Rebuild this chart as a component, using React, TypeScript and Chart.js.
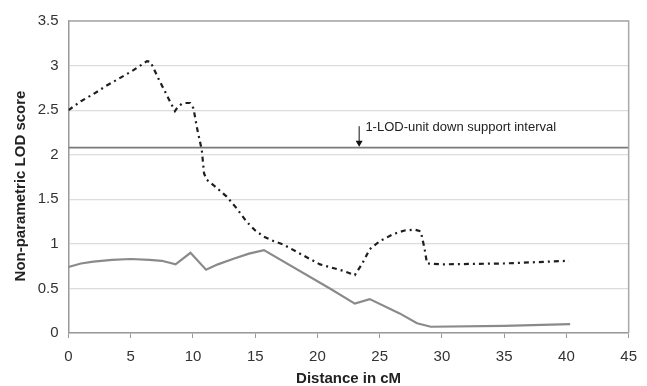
import React, { useEffect, useRef } from "react";
import { Chart, registerables } from "chart.js";

Chart.register(...registerables);

const dashedX = [0, 1, 2, 3, 4, 5, 6, 6.3, 6.6, 7.2, 8, 8.55, 8.8, 9.1, 9.4, 9.77, 10.04, 10.31, 10.71, 10.89, 11.1, 11.64, 12.71, 13.5, 14.3, 15, 15.7, 16.5, 17.3, 18.6, 20.2, 22, 23, 23.6, 24.2, 25, 26.1, 27, 27.8, 28.3, 28.6, 28.8, 30, 35, 40.2];
const dashedY = [2.5, 2.6, 2.68, 2.77, 2.85, 2.93, 3.02, 3.05, 3.04, 2.86, 2.64, 2.49, 2.54, 2.57, 2.58, 2.58, 2.52, 2.31, 2.05, 1.79, 1.72, 1.66, 1.53, 1.4, 1.25, 1.15, 1.08, 1.03, 0.99, 0.89, 0.77, 0.7, 0.65, 0.78, 0.94, 1.03, 1.11, 1.15, 1.16, 1.14, 0.95, 0.78, 0.77, 0.78, 0.81];

const solidX = [0, 1, 2, 3.5, 5, 6.5, 7.5, 8.6, 9.8, 11.05, 12, 13.2, 14.5, 15.7, 21, 23, 24.2, 26.6, 28, 29.1, 35, 40.3];
const solidY = [0.74, 0.78, 0.8, 0.82, 0.83, 0.82, 0.81, 0.77, 0.9, 0.71, 0.77, 0.83, 0.89, 0.93, 0.5, 0.33, 0.38, 0.22, 0.11, 0.07, 0.08, 0.1];

const thresholdX = [0, 45];
const thresholdY = [2.08, 2.08];

const xTicks = [0, 5, 10, 15, 20, 25, 30, 35, 40, 45];
const yTicks = [0, 0.5, 1, 1.5, 2, 2.5, 3, 3.5];

const yTitle = "Non-parametric LOD score";
const annotationText = "1-LOD-unit down support interval";
const annotationArrowX = 23.35;
const annotationTextX = 23.85;
const annotationTextY = 2.31;
const annotationArrowTop = 2.32;
const annotationArrowBottom = 2.09;

const FONT = "'Liberation Sans', Arial, sans-serif";

const toPts = (xs: number[], ys: number[]) => xs.map((x, i) => ({ x, y: ys[i] }));

const framePlugin = {
  id: "frame",
  afterDraw(chart: any) {
    const { ctx, chartArea, scales } = chart;
    ctx.save();
    ctx.strokeStyle = "#a8a8a8";
    ctx.lineWidth = 1.5;
    ctx.beginPath();
    ctx.moveTo(chartArea.left, chartArea.top);
    ctx.lineTo(chartArea.right, chartArea.top);
    ctx.lineTo(chartArea.right, chartArea.bottom);
    ctx.stroke();
    const xs = scales.x;
    const ys = scales.y;
    const ax = xs.getPixelForValue(annotationArrowX);
    const top = ys.getPixelForValue(annotationArrowTop);
    const bot = ys.getPixelForValue(annotationArrowBottom);
    ctx.strokeStyle = "#111";
    ctx.fillStyle = "#111";
    ctx.lineWidth = 1;
    ctx.beginPath();
    ctx.moveTo(ax, top);
    ctx.lineTo(ax, bot - 5);
    ctx.stroke();
    ctx.beginPath();
    ctx.moveTo(ax - 3.5, bot - 6);
    ctx.lineTo(ax + 3.5, bot - 6);
    ctx.lineTo(ax, bot);
    ctx.closePath();
    ctx.fill();
    ctx.font = "13px " + FONT;
    ctx.textAlign = "left";
    ctx.textBaseline = "middle";
    ctx.fillStyle = "#222";
    ctx.fillText(annotationText, xs.getPixelForValue(annotationTextX), ys.getPixelForValue(annotationTextY));
    // y axis title
    const cy = (chartArea.top + chartArea.bottom) / 2 + 9;
    ctx.translate(21, cy);
    ctx.rotate(-Math.PI / 2);
    ctx.font = "bold 15px " + FONT;
    ctx.textAlign = "center";
    ctx.textBaseline = "middle";
    ctx.fillStyle = "#222";
    ctx.fillText(yTitle, 0, 0);
    ctx.restore();
  },
};

export default function App() {
  const ref = useRef<HTMLCanvasElement | null>(null);
  useEffect(() => {
    document.body.style.margin = "0";
    const c = ref.current!;
    const chart = new Chart(c, {
      type: "line",
      data: {
        datasets: [
          {
            label: "threshold",
            data: toPts(thresholdX, thresholdY),
            borderColor: "#7a7a7a",
            borderWidth: 1.6,
            pointRadius: 0,
            tension: 0,
          },
          {
            label: "NPL dashed",
            data: toPts(dashedX, dashedY),
            borderColor: "#1e1e1e",
            borderWidth: 2.2,
            borderDash: [5, 4, 2, 4],
            pointRadius: 0,
            tension: 0,
          },
          {
            label: "NPL solid",
            data: toPts(solidX, solidY),
            borderColor: "#8a8a8a",
            borderWidth: 2.2,
            pointRadius: 0,
            tension: 0,
          },
        ],
      },
      options: {
        animation: false,
        responsive: false,
        maintainAspectRatio: false,
        layout: { padding: { top: 21, right: 18, bottom: 0, left: 0 } },
        plugins: { legend: { display: false }, tooltip: { enabled: false } },
        scales: {
          x: {
            type: "linear",
            min: 0,
            max: 45,
            afterBuildTicks: (s: any) => {
              s.ticks = xTicks.map((v) => ({ value: v }));
            },
            afterFit: (s: any) => {
              s.height = 53;
            },
            grid: { drawOnChartArea: false, drawTicks: true, tickLength: 5, color: "#999" },
            border: { color: "#999", width: 1.5 },
            ticks: {
              color: "#333",
              font: { family: FONT, size: 15 },
              padding: 10,
              maxRotation: 0,
              callback: (v: any) => String(v),
            },
            title: {
              display: true,
              text: "Distance in cM",
              color: "#222",
              font: { family: FONT, size: 15, weight: "bold", lineHeight: 1 },
              padding: { top: 0, bottom: 0 },
            },
          },
          y: {
            type: "linear",
            min: 0,
            max: 3.5,
            afterBuildTicks: (s: any) => {
              s.ticks = yTicks.map((v) => ({ value: v }));
            },
            afterFit: (s: any) => {
              s.width = 68.5;
            },
            grid: { color: "#dcdcdc", lineWidth: 1.2, drawTicks: false },
            border: { color: "#999", width: 1.5 },
            ticks: {
              color: "#333",
              font: { family: FONT, size: 15 },
              padding: 10,
              callback: (v: any) => String(v),
            },
            title: { display: false },
          },
        },
      },
      plugins: [framePlugin],
    } as any);
    return () => chart.destroy();
  }, []);
  return (
    <div style={{ width: 647, height: 386, background: "#fff" }}>
      <canvas ref={ref} width={647} height={386} style={{ display: "block" }} />
    </div>
  );
}
